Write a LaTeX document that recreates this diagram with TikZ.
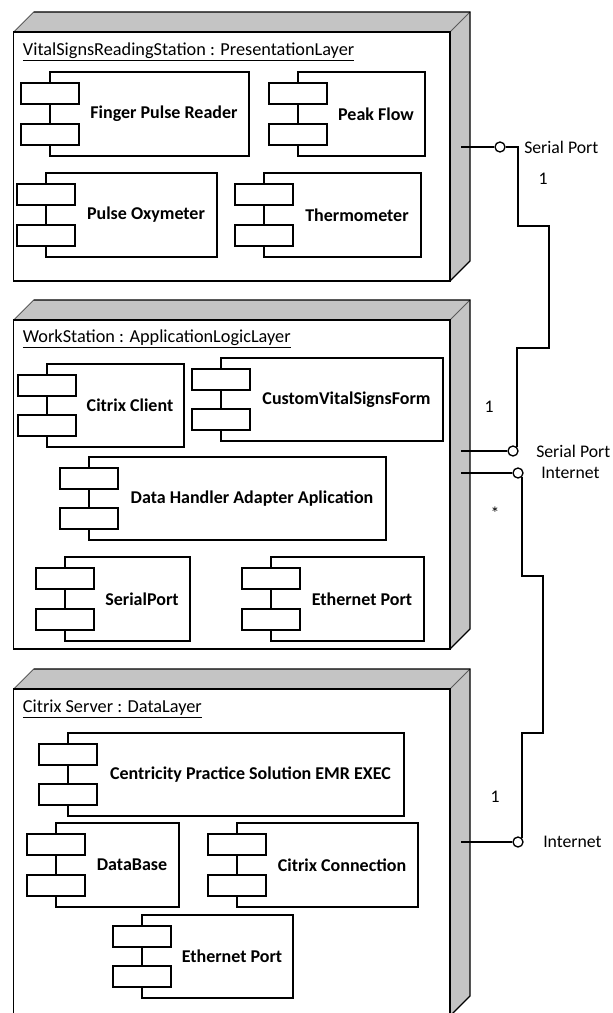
\documentclass[tikz,border=0pt]{standalone}
\usepackage{fontspec}
\setmainfont{Carlito}
\usetikzlibrary{positioning}
\definecolor{sidegray}{RGB}{196,196,196}
\definecolor{edgegray}{RGB}{90,90,90}

\begin{document}
\begin{tikzpicture}[line join=miter, x=0.75pt, y=-0.75pt,
  box/.style={draw=black, line width=1pt, fill=white},
  side/.style={fill=sidegray},
  edge/.style={draw=edgegray, line width=0.6pt},
  bump/.style={draw=black, line width=1pt, fill=white},
  complabel/.style={font=\bfseries\fontsize{13.5}{15}\selectfont, inner sep=0pt},
  devtitle/.style={font=\fontsize{13.7}{15}\selectfont, anchor=west, inner sep=0pt},
  iface/.style={circle, draw, line width=1pt, fill=white, minimum size=7.5pt, inner sep=0pt},
  wire/.style={line width=1pt},
  portlabel/.style={font=\fontsize{13.3}{15}\selectfont, inner sep=0pt}]
\useasboundingbox (0,0) rectangle (613,1013);
% device boxes
\foreach \t/\b in {32/281, 320/649, 689/1016}{
  \fill[side] (13.7,\t) -- (33.7,\t-20) -- (470,\t-20) -- (470,\b-20) -- (450,\b) -- (450,\t) -- cycle;
  \draw[edge] (13.7,\t) -- (33.7,\t-20);
  \draw[edge] (450,\t) -- (470,\t-20);
  \draw[line width=1pt] (33.7,\t-20) -- (470,\t-20) -- (470,\b-20) -- (450,\b);
  \draw[box] (13.7,\t) rectangle (450,\b);
}
\node[devtitle] (vsrs) at (22.7,52) {\underline{VitalSignsReadingStation : PresentationLayer}};
\node[devtitle] (wst) at (22.7,339) {\underline{WorkStation : ApplicationLogicLayer}};
\node[devtitle] (csrv) at (22.7,709) {\underline{Citrix Server : DataLayer}};
% components
\foreach \n/\l/\t/\r/\b/\txt in {
  fpr/50/72/249/156/Finger Pulse Reader,
  pf/298/72/425/156/Peak Flow,
  po/46/173/217/257/Pulse Oxymeter,
  th/264/173/421/257/Thermometer,
  cc/47/364/184/447/Citrix Client,
  cvs/221/358/443/441/CustomVitalSignsForm,
  dha/89/457/386/540/Data Handler Adapter Aplication,
  sp/65/557/190/641/SerialPort,
  ep/271/557/424/641/Ethernet Port,
  cps/68/733/404/816/Centricity Practice Solution EMR EXEC,
  db/56/823/179/907/DataBase,
  ccn/237/823/418/907/Citrix Connection,
  ept/142/915/293/998/Ethernet Port}{
  \draw[box] (\l,\t) rectangle (\r,\b);
  \draw[bump] (\l-29,\t+11) rectangle (\l+29,\t+32);
  \draw[bump] (\l-29,\b-32) rectangle (\l+29,\b-11);
  \node[complabel] (\n) at ({(\l+29+\r)/2},{(\t+\b)/2}) {\txt};
}
% ports
\coordinate (vsp) at (461,147);
\coordinate (wsp) at (461,451);
\coordinate (wnet) at (461,473);
\coordinate (cnet) at (461,842);
\node[iface] (sp1) at (500,147) {};
\node[iface] (sp2) at (513,451) {};
\node[iface] (net1) at (518,473) {};
\node[iface] (net2) at (518,842) {};
\draw[wire] (vsp) -- (sp1);
\draw[wire] (wsp) -- (sp2);
\draw[wire] (wnet) -- (net1);
\draw[wire] (cnet) -- (net2);
\draw[wire] (sp1.east) -| (518,226) -| (549,348) -| (sp2.north east);
\draw[wire] (net1.south east) |- (543,576) -- (543,733) -| (net2.north east);
% labels
\node[portlabel, anchor=west] (sp1l) at (524,147) {Serial Port};
\node[portlabel] (m1) at (543,179) {1};
\node[portlabel] (m2) at (489,407) {1};
\node[portlabel, anchor=west] (sp2l) at (536,451) {Serial Port};
\node[portlabel, anchor=west] (net1l) at (541,473) {Internet};
\node[portlabel] (m3) at (495,513) {*};
\node[portlabel] (m4) at (495,797) {1};
\node[portlabel, anchor=west] (net2l) at (543,842) {Internet};
\end{tikzpicture}
\end{document}
